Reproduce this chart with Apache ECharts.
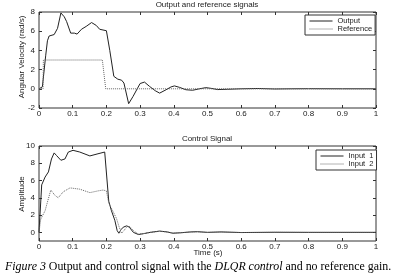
<!DOCTYPE html>
<html>
<head>
<meta charset="utf-8">
<script src="https://cdn.jsdelivr.net/npm/echarts@6/dist/echarts.min.js"></script>
<style>
html,body{margin:0;padding:0;background:#fff;}
#chart{width:396px;height:279px;}
</style>
</head>
<body>
<div id="chart"></div>
<script>
// top panel: output vs reference
var outT = [0,0.01,0.02,0.025,0.03,0.035,0.045,0.055,0.065,0.075,0.082,0.094,0.105,0.113,0.126,0.14,0.156,0.17,0.18,0.2,
  0.21,0.222,0.234,0.245,0.252,0.266,0.279,0.3,0.313,0.328,0.345,0.358,0.377,0.392,0.402,0.417,0.436,0.456,0.476,0.495,
  0.51,0.53,0.56,0.6,0.65,0.7,0.75,0.8,0.9,1]
var outV = [0,0.2,3.5,5.0,5.5,5.65,5.65,6.3,7.9,7.5,7.0,5.8,5.8,5.7,6.2,6.5,6.9,6.6,6.2,6.05,
  4.0,1.3,1.0,0.9,0.6,-1.55,-0.8,0.55,0.7,0.25,-0.2,-0.45,-0.1,0.2,0.3,0.15,-0.1,-0.15,0.0,0.12,
  0.05,-0.08,-0.05,0.0,0.03,-0.02,0.0,0.01,0.0,0]
var refT = [0,0.012,0.013,0.188,0.198,1]
var refV = [0,0,3,3,0,0]

// bottom panel: control inputs
var in1T = [0,0.008,0.018,0.028,0.037,0.045,0.052,0.065,0.077,0.087,0.101,0.121,0.151,0.175,0.195,0.2,0.207,0.215,0.225,0.232,
  0.237,0.243,0.25,0.26,0.268,0.28,0.295,0.31,0.33,0.358,0.38,0.397,0.42,0.45,0.47,0.5,0.54,0.6,0.7,0.8,1]
var in1V = [0,5.5,6.4,7.0,8.5,9.2,8.9,8.35,8.5,9.3,9.5,9.3,8.85,9.1,9.3,9.1,3.6,2.5,1.4,0.2,
  -0.1,0.3,0.6,0.75,0.6,0.0,-0.25,-0.15,0.0,0.15,0.05,-0.1,-0.05,0.05,0.08,0.0,0.05,-0.02,0.01,0,0]
var in2T = [0,0.005,0.01,0.018,0.025,0.035,0.047,0.057,0.072,0.092,0.121,0.151,0.175,0.19,0.2,0.207,0.22,0.23,0.238,0.245,
  0.252,0.262,0.27,0.28,0.295,0.31,0.33,0.358,0.38,0.397,0.42,0.45,0.47,0.5,0.54,0.6,0.7,0.8,1]
var in2V = [0,1.5,1.9,2.5,3.5,4.9,4.3,4.0,4.7,5.15,5.0,4.6,4.8,4.9,4.8,3.4,2.4,1.6,0.6,-0.1,
  0.2,0.7,0.65,0.2,-0.2,-0.15,0.0,0.12,0.05,-0.08,-0.04,0.04,0.06,0.0,0.04,-0.02,0.01,0,0]

var timeTicks = [0,0.1,0.2,0.3,0.4,0.5,0.6,0.7,0.8,0.9,1]
var velTicks = [-2,0,2,4,6,8]
var ampTicks = [0,2,4,6,8,10]

function pairs(t, v){ return t.map(function(x,i){ return [x, v[i]] }) }

var font = 'Liberation Sans'
var txt = {fontFamily: font, fontSize: 8, fill: '#222'}

function xAx(grid, pos, showLabel){
  return {
    type: 'value', gridIndex: grid, position: pos, min: 0, max: 1, interval: 0.1,
    axisLine: {show: false, onZero: false},
    axisTick: {show: true, inside: true, length: 3, lineStyle: {color: '#333'}},
    axisLabel: {show: showLabel, margin: 2, fontFamily: font, fontSize: 8, color: '#222',
      formatter: function(v){ return String(Math.round(v*10)/10) }},
    splitLine: {show: false}
  }
}
function yAx(grid, pos, showLabel, min, max, ticks){
  return {
    type: 'value', gridIndex: grid, position: pos, min: min, max: max,
    axisLine: {show: false, onZero: false},
    axisTick: {show: true, inside: true, length: 3, customValues: ticks, lineStyle: {color: '#333'}},
    axisLabel: {show: showLabel, margin: 4, fontFamily: font, fontSize: 8, color: '#222', customValues: ticks},
    splitLine: {show: false}
  }
}
function leg(names, left, top){
  return {
    data: names, orient: 'vertical', left: left, top: top,
    backgroundColor: '#fff', borderColor: '#333', borderWidth: 1, borderRadius: 0, padding: [2,3,2,4],
    itemGap: 0, itemWidth: 23, itemHeight: 7,
    itemStyle: {opacity: 0},
    lineStyle: {width: 1},
    textStyle: {fontFamily: font, fontSize: 7.5, color: '#222', lineHeight: 7}
  }
}

var chart = echarts.init(document.getElementById('chart'))
chart.setOption({
  animation: false,
  backgroundColor: '#fff',
  grid: [
    {left: 39, right: 20, top: 12, bottom: 171, show: true, borderColor: '#333', borderWidth: 1},
    {left: 39, right: 20, top: 146, bottom: 38, show: true, borderColor: '#333', borderWidth: 1}
  ],
  xAxis: [xAx(0,'bottom',true), xAx(0,'top',false), xAx(1,'bottom',true), xAx(1,'top',false)],
  yAxis: [
    yAx(0,'left',true,-2,8,velTicks), yAx(0,'right',false,-2,8,velTicks),
    yAx(1,'left',true,-1,10,ampTicks), yAx(1,'right',false,-1,10,ampTicks)
  ],
  legend: [leg(['Output','Reference'], 305, 15), leg(['Input  1','Input  2'], 316, 150)],
  series: [
    {name: 'Output', type: 'line', xAxisIndex: 0, yAxisIndex: 0, data: pairs(outT,outV), symbol: 'none',
      lineStyle: {color: '#222', width: 1}, itemStyle: {color: '#222'}},
    {name: 'Reference', type: 'line', xAxisIndex: 0, yAxisIndex: 0, data: pairs(refT,refV), symbol: 'none',
      lineStyle: {color: '#666', width: 1, type: 'dotted'}, itemStyle: {color: '#666'}},
    {name: 'Input  1', type: 'line', xAxisIndex: 2, yAxisIndex: 2, data: pairs(in1T,in1V), symbol: 'none',
      lineStyle: {color: '#222', width: 1}, itemStyle: {color: '#222'}},
    {name: 'Input  2', type: 'line', xAxisIndex: 2, yAxisIndex: 2, data: pairs(in2T,in2V), symbol: 'none',
      lineStyle: {color: '#666', width: 1, type: 'dotted'}, itemStyle: {color: '#666'}}
  ],
  graphic: [
    {type: 'text', x: 207, y: 5, style: Object.assign({text: 'Output and reference signals', textAlign: 'center', textVerticalAlign: 'middle'}, txt)},
    {type: 'text', x: 207, y: 139, style: Object.assign({text: 'Control Signal', textAlign: 'center', textVerticalAlign: 'middle'}, txt)},
    {type: 'text', x: 208, y: 253, style: Object.assign({text: 'Time (s)', textAlign: 'center', textVerticalAlign: 'middle'}, txt)},
    {type: 'text', x: 22, y: 57, rotation: Math.PI/2, style: Object.assign({text: 'Angular Velocity (rad/s)', textAlign: 'center', textVerticalAlign: 'middle'}, txt)},
    {type: 'text', x: 22, y: 194, rotation: Math.PI/2, style: Object.assign({text: 'Amplitude', textAlign: 'center', textVerticalAlign: 'middle'}, txt)},
    {type: 'text', x: 5, y: 267, style: {
      text: '{i|Figure 3} Output and control signal with the {i|DLQR control} and no reference gain.',
      textVerticalAlign: 'middle', fontFamily: 'Liberation Serif', fontSize: 11.9, fill: '#000',
      rich: {i: {fontStyle: 'italic', fontFamily: 'Liberation Serif', fontSize: 11.9, color: '#000'}}}}
  ]
})
</script>
</body>
</html>
